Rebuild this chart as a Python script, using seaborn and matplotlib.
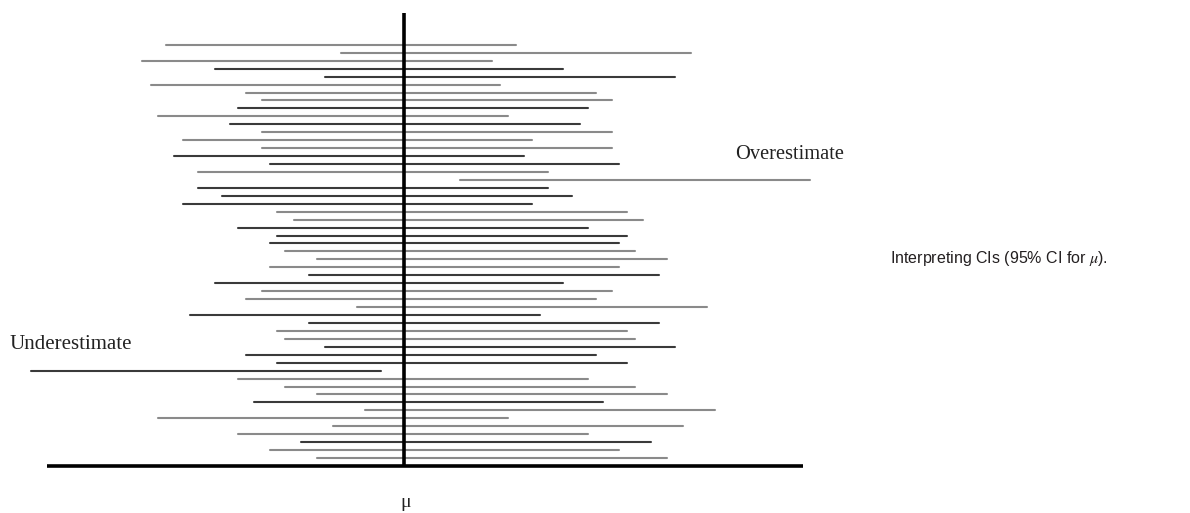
import matplotlib
matplotlib.use("Agg")
import matplotlib.pyplot as plt
import pandas as pd
import seaborn as sns

# confidence intervals (in units relative to mu = 0), top to bottom
lower = [-2.38, -0.63, -2.62, -1.89, -0.79, -2.53, -1.58, -1.42, -1.66, -2.46,
         -1.74, -1.42, -2.21, -1.42, -2.30, -1.34, -2.06, 0.56, -2.06, -1.82,
         -2.21, -1.27, -1.10, -1.66, -1.27, -1.34, -1.19, -0.87, -1.34, -0.95,
         -1.89, -1.42, -1.58, -0.47, -2.14, -0.95, -1.27, -1.19, -0.79, -1.58,
         -1.27, -3.73, -1.66, -1.19, -0.87, -1.50, -0.39, -2.46, -0.71, -1.66,
         -1.03, -1.34, -0.87]
upper = [1.12, 2.87, 0.88, 1.59, 2.71, 0.96, 1.92, 2.08, 1.84, 1.04,
         1.76, 2.08, 1.28, 2.08, 1.20, 2.15, 1.44, 4.06, 1.44, 1.68,
         1.28, 2.23, 2.39, 1.84, 2.23, 2.15, 2.31, 2.63, 2.15, 2.55,
         1.59, 2.08, 1.92, 3.03, 1.36, 2.55, 2.23, 2.31, 2.71, 1.92,
         2.23, -0.23, 1.84, 2.31, 2.63, 1.99, 3.11, 1.04, 2.79, 1.84,
         2.47, 2.15, 2.63]
shade = ["g", "g", "g", "d", "d", "g", "g", "g", "d", "g",
         "d", "g", "g", "g", "d", "d", "g", "g", "d", "d",
         "d", "g", "g", "d", "d", "d", "g", "g", "g", "d",
         "d", "g", "g", "g", "d", "d", "g", "g", "d", "d",
         "d", "d", "g", "g", "g", "d", "g", "g", "g", "g",
         "d", "g", "g"]
labels = ["Overestimate", "Underestimate"]
caption = r"Interpreting CIs (95% CI for $\mu$)."

rows = []
for i, (lo, hi, s) in enumerate(zip(lower, upper, shade), start=1):
    rows.append({"id": i, "x": lo, "y": i, "shade": s})
    rows.append({"id": i, "x": hi, "y": i, "shade": s})
df = pd.DataFrame(rows)

sns.set_style("white")
plt.rcParams["mathtext.fontset"] = "stix"

fig = plt.figure(figsize=(11.9, 5.13), dpi=100)
ax = fig.add_axes([0.0399, 0.0916, 0.6349, 0.883])

sns.lineplot(data=df, x="x", y="y", hue="shade", units="id", estimator=None,
             sort=False, palette={"g": "#8a8a8a", "d": "#3a3a3a"},
             linewidth=1.5, legend=False, clip_on=False, ax=ax)

ax.axvline(0, color="black", linewidth=2.6)
ax.set_xlim(-3.565, 3.99)
ax.set_ylim(54, -3)
ax.set_xticks([])
ax.set_yticks([])
ax.set_xlabel("")
ax.set_ylabel("")
for side in ["top", "left", "right"]:
    ax.spines[side].set_visible(False)
ax.spines["bottom"].set_linewidth(2.6)
ax.spines["bottom"].set_color("black")
ax.spines["bottom"].set_capstyle("butt")

fig.text(735 / 1190, 1 - 159.3 / 513, labels[0], ha="left", va="baseline",
         fontsize=14.7, family="Liberation Serif", color="#222222")
fig.text(9.3 / 1190, 1 - 349.3 / 513, labels[1], ha="left", va="baseline",
         fontsize=15, family="Liberation Serif", color="#222222")
fig.text(406 / 1190, 1 - 507 / 513, "\u03bc", ha="center", va="baseline",
         fontsize=14, family="Liberation Serif", color="#222222")
fig.text(890 / 1190, 1 - 259 / 513, caption, ha="left", va="center",
         fontsize=11.5, family="Liberation Sans", color="#231f20")

fig.savefig("out.png", dpi=100)
